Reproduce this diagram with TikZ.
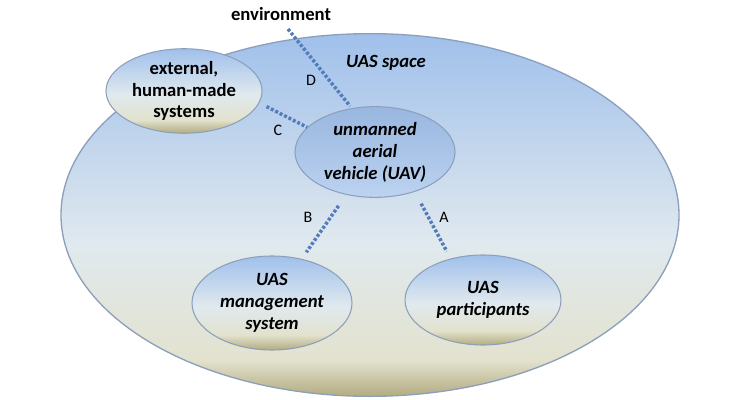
\documentclass[tikz,border=0pt]{standalone}
\usepackage{fontspec}
\setmainfont{Carlito}
\usetikzlibrary{positioning,shapes.geometric}

\definecolor{sky}{RGB}{160,192,235}
\definecolor{pale}{RGB}{224,233,238}
\definecolor{sand}{RGB}{226,226,206}
\definecolor{moss}{RGB}{178,172,128}
\definecolor{rim}{RGB}{140,160,188}
\definecolor{dotblue}{RGB}{84,124,186}

\pgfdeclareverticalshading{spaceshade}{100bp}{color(0bp)=(moss); color(25bp)=(moss); color(30bp)=(sand); color(46bp)=(pale); color(75bp)=(sky); color(100bp)=(sky)}
\pgfdeclareverticalshading{bubbleshade}{100bp}{color(0bp)=(moss); color(25bp)=(moss); color(33bp)=(sand); color(48bp)=(pale); color(75bp)=(sky); color(100bp)=(sky)}

\begin{document}
\begin{tikzpicture}[x=0.75pt,y=-0.75pt,
  space/.style={ellipse,draw=rim,line width=1pt,shading=spaceshade,minimum width=463.5pt,minimum height=272pt,inner sep=0pt},
  bubble/.style={ellipse,draw=rim,line width=0.8pt,shading=bubbleshade,align=center,inner sep=0pt,font=\fontsize{14}{16.4}\selectfont\bfseries},
  uavbubble/.style={bubble,shading=axis,top color=sky!95!black,bottom color=sky!70!white},
  tag/.style={font=\fontsize{14}{16.4}\selectfont\bfseries},
  letter/.style={font=\fontsize{12}{14}\selectfont},
  link/.style={draw=dotblue,line width=2.6pt,dash pattern=on 2.2pt off 1.5pt}]
\useasboundingbox (0,0) rectangle (740,400);

\node[space] (space) at (370,215) {};
\node[tag] (spacename) at (386,63) {\itshape UAS space};
\node[tag] (env) at (281,14) {environment};
\coordinate (envend) at (288,29);

\node[bubble,minimum width=117pt,minimum height=61.5pt] (ext) at (184,91) {external,\\human-made\\systems};
\node[uavbubble,minimum width=120pt,minimum height=68pt] (uav) at (375,152) {\itshape unmanned\\\itshape aerial\\\itshape vehicle (UAV)};
\node[bubble,minimum width=120pt,minimum height=70.5pt] (mgmt) at (272,303) {\itshape UAS\\\itshape management\\\itshape system};
\node[bubble,minimum width=117pt,minimum height=67.5pt] (part) at (483,300) {\itshape UAS\\\itshape participants};

\node[letter] (ld) at (311,80) {D};
\node[letter] (lc) at (278,130) {C};
\node[letter] (lb) at (308,217) {B};
\node[letter] (la) at (444,217) {A};

\draw[link,shorten >=2pt] (envend) -- (uav.118);
\draw[link,shorten <=6pt] (ext.-9) -- (uav.160);
\draw[link,shorten <=10pt,shorten >=6pt] (uav.-124) -- (mgmt.56);
\draw[link,shorten <=10pt,shorten >=6pt] (uav.-45) -- (part.128);
\end{tikzpicture}
\end{document}
